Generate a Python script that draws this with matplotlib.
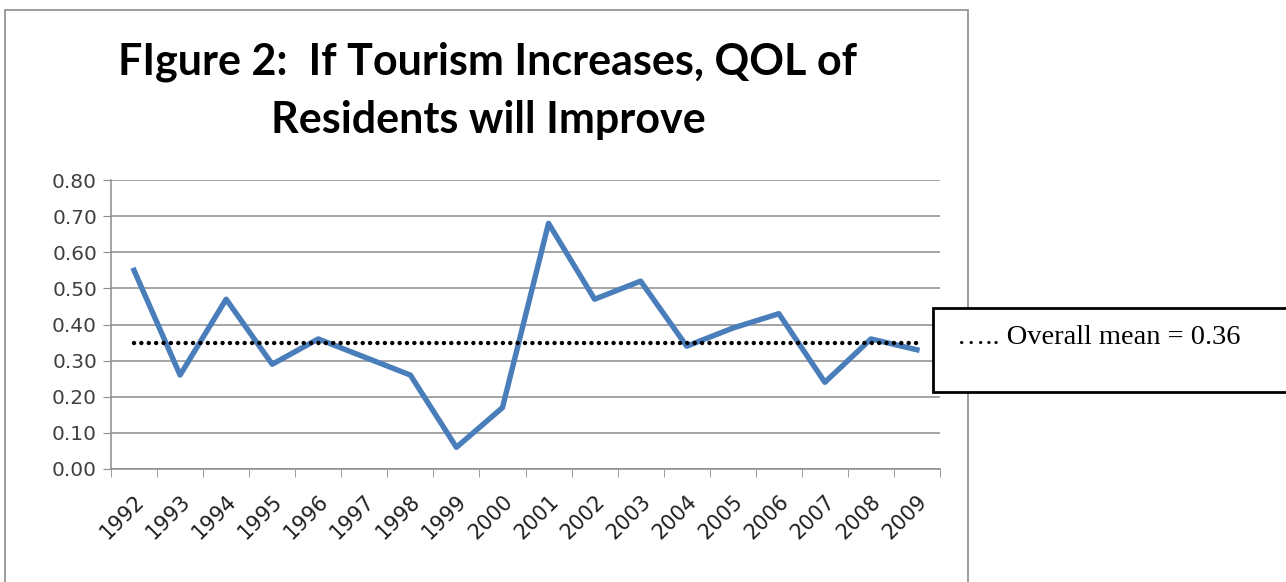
import numpy as np
import matplotlib
matplotlib.use("Agg")
import matplotlib.pyplot as plt
from matplotlib.patches import Rectangle

years = ["1992", "1993", "1994", "1995", "1996", "1997", "1998", "1999", "2000",
         "2001", "2002", "2003", "2004", "2005", "2006", "2007", "2008", "2009"]
values = [0.55, 0.26, 0.47, 0.29, 0.36, 0.31, 0.26, 0.06, 0.17,
          0.68, 0.47, 0.52, 0.34, 0.39, 0.43, 0.24, 0.36, 0.33]
mean_line = 0.35
mean_label = "….. Overall mean = 0.36"
title = "FIgure 2:  If Tourism Increases, QOL of\nResidents will Improve"
yticks = [0.0, 0.1, 0.2, 0.3, 0.4, 0.5, 0.6, 0.7, 0.8]


def main():
    fig = plt.figure(figsize=(12.86, 5.82), dpi=100)

    # outer chart frame
    fig.patches.append(Rectangle((5 / 1286, -0.05), 963 / 1286, 1.05 - 10 / 582,
                                 transform=fig.transFigure, fill=False,
                                 edgecolor="#8c8c8c", linewidth=1.2))

    ax = fig.add_axes([111 / 1286, 1 - 469 / 582, 829 / 1286, 289 / 582])
    x = np.arange(len(years))
    ax.plot(x, values, color="#4a7ebb", linewidth=3.9)
    ax.plot([x[0], x[-1]], [mean_line, mean_line], color="black",
            linestyle=(0, (0.01, 1.65)), linewidth=3.2, dash_capstyle="round")

    ax.set_xlim(-0.5, len(years) - 0.5)
    ax.set_ylim(0, 0.8)
    ax.set_yticks(yticks)
    ax.set_yticklabels([f"{v:.2f}" for v in yticks], fontsize=14.5, color="#404040")
    ax.yaxis.grid(True, color="#8c8c8c", linewidth=1.1)
    ax.set_axisbelow(True)

    ax.set_xticks(x)
    ax.set_xticklabels(years, rotation=45, ha="right", rotation_mode="anchor",
                       fontsize=15, color="#202020")
    ax.set_xticks(np.arange(len(years) + 1) - 0.5, minor=True)
    ax.tick_params(axis="x", which="major", length=0, pad=16)
    ax.tick_params(axis="x", which="minor", length=6, color="#8c8c8c", direction="out")
    ax.tick_params(axis="y", length=6, color="#8c8c8c", pad=4)

    for s in ["top", "right"]:
        ax.spines[s].set_visible(False)
    for s in ["left", "bottom"]:
        ax.spines[s].set_color("#8c8c8c")
        ax.spines[s].set_linewidth(1.1)

    fig.text(488 / 1286, 1 - 62 / 582, title.split("\n")[0], ha="center", va="center",
             fontsize=31, fontweight="bold", family="Lato")
    fig.text(488 / 1286, 1 - 120 / 582, title.split("\n")[1], ha="center", va="center",
             fontsize=31, fontweight="bold", family="Lato")

    # annotation box
    fig.patches.append(Rectangle((933 / 1286, 1 - 392 / 582), 360 / 1286, 84 / 582,
                                 transform=fig.transFigure, facecolor="white",
                                 edgecolor="black", linewidth=2, zorder=5))
    fig.text(957 / 1286, 1 - 338 / 582, mean_label, ha="left", va="center",
             fontsize=20.5, family="Liberation Serif", zorder=6)

    fig.savefig("out.png", dpi=100)


if __name__ == "__main__":
    main()
